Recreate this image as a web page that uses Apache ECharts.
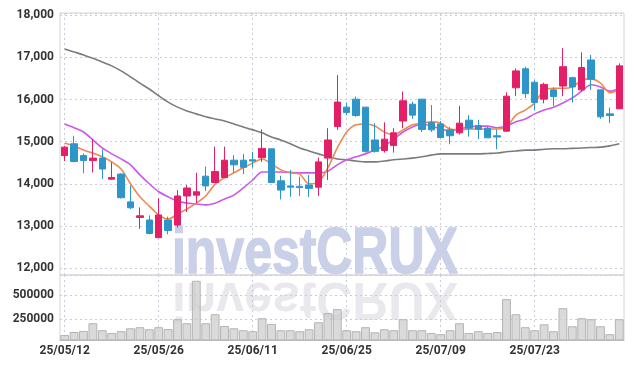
<!DOCTYPE html>
<html style="height: 100%">
<head>
	<meta charset="utf-8">
	<script type="text/javascript" src="https://cdn.jsdelivr.net/npm/echarts@6.0.0/dist/echarts.min.js"></script>
</head>
<body style="height: 100%; margin: 0; background: #fff">
<div id="container" style="width: 634px; height: 369px"></div>
<script type="text/javascript">
    // trading days shown on the chart
    var dates = [
        '25/05/12', '25/05/13', '25/05/14', '25/05/15', '25/05/16',
        '25/05/19', '25/05/20', '25/05/21', '25/05/22', '25/05/23',
        '25/05/26', '25/05/27', '25/05/28', '25/05/29', '25/05/30',
        '25/06/02', '25/06/04', '25/06/05', '25/06/09', '25/06/10',
        '25/06/11', '25/06/12', '25/06/13', '25/06/16', '25/06/17',
        '25/06/18', '25/06/19', '25/06/20', '25/06/23', '25/06/24',
        '25/06/25', '25/06/26', '25/06/27', '25/06/30', '25/07/01',
        '25/07/02', '25/07/03', '25/07/04', '25/07/07', '25/07/08',
        '25/07/09', '25/07/10', '25/07/11', '25/07/14', '25/07/15',
        '25/07/16', '25/07/17', '25/07/18', '25/07/21', '25/07/22',
        '25/07/23', '25/07/24', '25/07/25', '25/07/28', '25/07/29',
        '25/07/30', '25/07/31', '25/08/01', '25/08/04', '25/08/05'
    ];

    var openPrices = [
        14670, 14950, 14670, 14550, 14610, 14110, 14230, 13570, 13200, 13140,
        12720, 13140, 13020, 13710, 13730, 14180, 14030, 14150, 14560, 14560,
        14570, 14620, 14830, 14070, 13950, 13940, 13970, 13920, 14610, 15360,
        15820, 16010, 15820, 15040, 14790, 14910, 15490, 15890, 16010, 15450,
        15420, 15280, 15210, 15510, 15380, 15320, 15140, 15250, 16280, 16730,
        16410, 16010, 16230, 16320, 16520, 16230, 16940, 16230, 15660, 15780
    ];
    var closePrices = [
        14870, 14530, 14550, 14610, 14350, 14150, 13670, 13430, 13240, 12820,
        13260, 12890, 13710, 13900, 13810, 13950, 14290, 14560, 14450, 14390,
        14540, 14840, 14030, 13850, 13920, 13910, 13890, 14520, 15040, 15940,
        15690, 15620, 14770, 14770, 15060, 15210, 15970, 15630, 15290, 15280,
        15100, 15140, 15440, 15320, 15290, 15090, 15110, 16080, 16680, 16140,
        15930, 16360, 16070, 16780, 16300, 16760, 16480, 15590, 15620, 16800
    ];
    var lowPrices = [
        14540, 14510, 14250, 14270, 14110, 14100, 13650, 13400, 12930, 12800,
        12720, 12800, 12960, 13330, 13540, 13830, 14020, 14140, 14260, 14230,
        14380, 14520, 14030, 13630, 13690, 13710, 13690, 13710, 14090, 15280,
        15630, 15590, 14740, 14740, 14740, 14740, 15320, 15540, 15230, 15230,
        15080, 14940, 15170, 15120, 15060, 15090, 14820, 15230, 16080, 16040,
        15740, 15910, 15850, 16080, 15930, 16190, 16230, 15540, 15440, 15780
    ];
    var highPrices = [
        14900, 15140, 14720, 15060, 14820, 14510, 14250, 13960, 13440, 13250,
        13660, 13220, 13850, 13970, 14260, 14410, 14880, 14880, 14680, 14710,
        14760, 15290, 14840, 14190, 14330, 14170, 14210, 14620, 15320, 16580,
        15930, 16070, 15820, 15440, 15460, 15320, 16190, 15950, 16010, 15870,
        15490, 15350, 15850, 15630, 15520, 15350, 15290, 16170, 16740, 16780,
        16460, 16400, 16290, 17220, 16540, 17120, 17060, 16230, 15810, 16860
    ];

    var volumes = [
        88000, 119000, 130000, 209000, 137000, 109000, 127000, 157000, 168000, 147000,
        168000, 150000, 250000, 209000, 644000, 209000, 301000, 181000, 157000, 137000,
        127000, 260000, 202000, 137000, 137000, 127000, 147000, 219000, 312000, 353000,
        137000, 127000, 168000, 116000, 147000, 137000, 250000, 137000, 137000, 109000,
        96000, 137000, 209000, 109000, 127000, 109000, 119000, 456000, 301000, 168000,
        137000, 198000, 127000, 363000, 178000, 260000, 250000, 178000, 96000, 250000
    ];

    var ma5 = [
        14970, 14900, 14800, 14730, 14640, 14520, 14350, 14000, 13690, 13470,
        13260, 13160, 13280, 13400, 13540, 13710, 13990, 14140, 14260, 14380,
        14490, 14590, 14470, 14330, 14260, 14230, 14000, 14040, 14380, 14850,
        15230, 15400, 15420, 15370, 15230, 15160, 15280, 15400, 15440, 15470,
        15440, 15300, 15280, 15300, 15300, 15300, 15300, 15350, 15630, 15750,
        15920, 16230, 16270, 16270, 16300, 16460, 16490, 16390, 16160, 16250
    ];
    var ma20 = [
        15420, 15330, 15230, 15040, 14850, 14710, 14590, 14450, 14210, 14000,
        13810, 13690, 13590, 13540, 13520, 13500, 13540, 13640, 13730, 13900,
        14090, 14280, 14280, 14280, 14270, 14260, 14260, 14260, 14300, 14450,
        14570, 14640, 14710, 14800, 14900, 15060, 15230, 15350, 15420, 15370,
        15300, 15250, 15300, 15350, 15370, 15370, 15330, 15370, 15470, 15540,
        15660, 15750, 15820, 15920, 16040, 16200, 16350, 16300, 16200, 16270
    ];
    var ma60 = [
        17200, 17130, 17060, 16980, 16890, 16800, 16680, 16540, 16390, 16250,
        16090, 15940, 15820, 15730, 15660, 15590, 15540, 15490, 15420, 15350,
        15280, 15210, 15110, 15040, 14950, 14850, 14780, 14710, 14640, 14590,
        14570, 14540, 14520, 14520, 14540, 14570, 14590, 14610, 14640, 14680,
        14710, 14710, 14710, 14710, 14710, 14720, 14730, 14760, 14780, 14800,
        14800, 14820, 14830, 14830, 14840, 14850, 14860, 14870, 14900, 14950
    ];

    var candleData = [];
    for (var i = 0; i < dates.length; i++) {
        candleData.push([openPrices[i], closePrices[i], lowPrices[i], highPrices[i]]);
    }

    var dom = document.getElementById("container");
    var myChart = echarts.init(dom, null, { renderer: 'canvas' });

    var labelStyle = {
        color: '#333',
        fontFamily: 'Roboto',
        fontWeight: 'bold',
        fontSize: 12
    };
    var dotted = { color: '#c9ccdc', type: [2, 3], width: 1 };

    var option = {
        backgroundColor: '#fff',
        animation: false,
        graphic: [
            {
                type: 'text',
                x: 172,
                y: 277,
                scaleX: 0.78,
                z: 1,
                silent: true,
                style: {
                    text: 'investCRUX',
                    x: 0,
                    y: -22,
                    verticalAlign: 'middle',
                    font: 'bold 64px "Liberation Sans"',
                    fill: '#c9d0e7',
                    stroke: '#c9d0e7',
                    lineWidth: 1.5
                }
            },
            {
                type: 'text',
                x: 172,
                y: 279,
                scaleX: 0.78,
                scaleY: -0.85,
                z: 1,
                silent: true,
                style: {
                    text: 'investCRUX',
                    x: 0,
                    y: -22,
                    verticalAlign: 'middle',
                    font: 'bold 64px "Liberation Sans"',
                    fill: 'rgba(200,200,212,0.42)'
                }
            }
        ],
        grid: [
            { left: 60, right: 10, top: 13, height: 262, show: true, borderColor: '#d4d4d8', backgroundColor: 'transparent' },
            { left: 60, right: 10, top: 275, height: 65, show: true, borderColor: '#d4d4d8', backgroundColor: 'transparent' }
        ],
        xAxis: [
            {
                type: 'category',
                gridIndex: 0,
                data: dates,
                boundaryGap: true,
                axisLine: { show: false },
                axisTick: { show: false },
                axisLabel: { show: false },
                splitLine: { show: true, interval: 9, alignWithLabel: true, lineStyle: dotted }
            },
            {
                type: 'category',
                gridIndex: 1,
                data: dates,
                boundaryGap: true,
                axisLine: { show: true, lineStyle: { color: '#bbb' } },
                axisTick: { show: false },
                axisLabel: Object.assign({ interval: 9, margin: 5 }, labelStyle),
                splitLine: { show: true, interval: 9, alignWithLabel: true, lineStyle: dotted }
            }
        ],
        yAxis: [
            {
                type: 'value',
                gridIndex: 0,
                min: 11834,
                max: 18055,
                minInterval: 1000,
                maxInterval: 1000,
                axisLine: { show: false },
                axisTick: { show: false },
                axisLabel: Object.assign({
                    margin: 6,
                    showMinLabel: false,
                    showMaxLabel: false,
                    formatter: function (v) {
                        return v % 1000 === 0 ? echarts.format.addCommas(v) : '';
                    }
                }, labelStyle),
                splitLine: { show: true, lineStyle: dotted }
            },
            {
                type: 'value',
                gridIndex: 1,
                min: 37000,
                max: 703000,
                minInterval: 250000,
                maxInterval: 250000,
                axisLine: { show: false },
                axisTick: { show: false },
                axisLabel: Object.assign({
                    margin: 6,
                    showMinLabel: false,
                    showMaxLabel: false,
                    formatter: function (v) {
                        return v % 250000 === 0 ? String(v) : '';
                    }
                }, labelStyle),
                splitLine: { show: true, lineStyle: dotted }
            }
        ],
        series: [
            {
                name: 'MA60',
                type: 'line',
                data: ma60,
                symbol: 'none',
                smooth: 0.3,
                z: 3,
                lineStyle: { color: '#7b7b7b', width: 1.6 }
            },
            {
                name: 'MA20',
                type: 'line',
                data: ma20,
                symbol: 'none',
                smooth: 0.3,
                z: 3,
                lineStyle: { color: '#c95ae8', width: 1.6 }
            },
            {
                name: 'MA5',
                type: 'line',
                data: ma5,
                symbol: 'none',
                smooth: 0.3,
                z: 3,
                lineStyle: { color: '#ee8a50', width: 1.6 }
            },
            {
                name: 'Price',
                type: 'candlestick',
                data: candleData,
                barWidth: '72%',
                z: 4,
                itemStyle: {
                    color: '#e31f68',
                    color0: '#2e95c9',
                    borderColor: '#e31f68',
                    borderColor0: '#2e95c9',
                    borderWidth: 1
                }
            },
            {
                name: 'Volume',
                type: 'bar',
                xAxisIndex: 1,
                yAxisIndex: 1,
                data: volumes,
                barCategoryGap: '6%',
                z: 2,
                itemStyle: {
                    color: 'rgba(205,205,205,0.75)',
                    borderColor: '#b4b4b4',
                    borderWidth: 1
                }
            }
        ]
    };

    myChart.setOption(option);
</script>
</body>
</html>
